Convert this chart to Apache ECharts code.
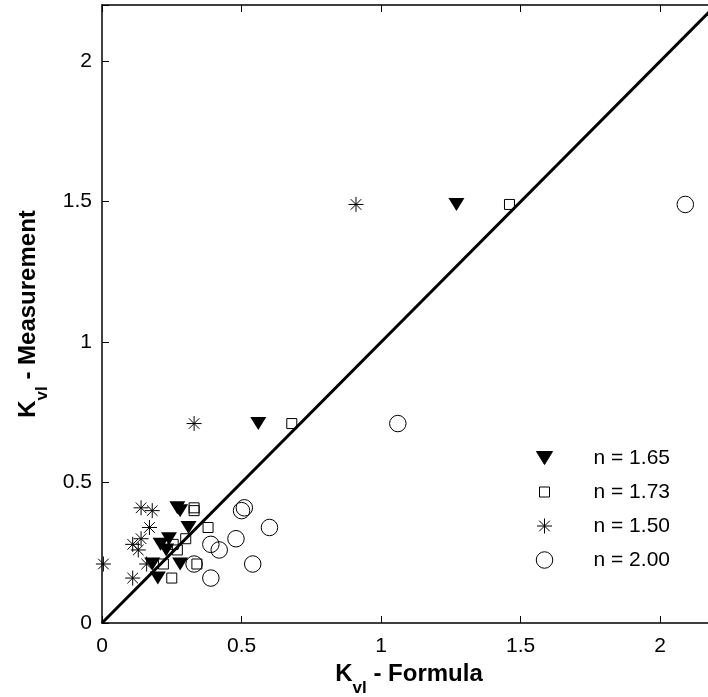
<!DOCTYPE html>
<html>
<head>
<meta charset="utf-8">
<script src="https://cdn.jsdelivr.net/npm/echarts@6/dist/echarts.min.js"></script>
<style>
  html, body { margin: 0; padding: 0; background: #fff; }
  #chart { width: 708px; height: 697px; }
</style>
</head>
<body>
<div id="chart"></div>
<script>
// measured K_vl, same for every exponent n
const measured = [1.49, 0.71, 0.41, 0.40, 0.34, 0.30, 0.28, 0.26, 0.21, 0.21, 0.16];
// K_vl from the formula for each n (same order as measured)
const formula165 = [1.27, 0.56, 0.27, 0.28, 0.31, 0.24, 0.21, 0.23, 0.18, 0.28, 0.20];
const formula173 = [1.46, 0.68, 0.33, 0.33, 0.38, 0.30, 0.255, 0.27, 0.22, 0.34, 0.25];
const formula150 = [0.91, 0.33, 0.14, 0.18, 0.17, 0.14, 0.11, 0.13, 0.005, 0.16, 0.11];
const formula200 = [2.09, 1.06, 0.51, 0.50, 0.60, 0.48, 0.39, 0.42, 0.33, 0.54, 0.39];
const seriesNames = ['n = 1.65', 'n = 1.73', 'n = 1.50', 'n = 2.00'];
// y = x reference line
const diagonal = [[0, 0], [2.2, 2.2]];
const tickValues = [0, 0.5, 1, 1.5, 2];

const font = 'Liberation Sans, Arial, sans-serif';

// marker shapes, all in an 18x18 box so legend and plot share size
const triDown = 'path://M0,0M18,18M1,2.5L17,2.5L9,15.5Z';
const square = 'path://M0,0M18,18M4,4L14,4L14,14L4,14Z';
const star = 'path://M0,0M18,18M9,1.5L9,16.5M1.5,9L16.5,9M3.7,3.7L14.3,14.3M3.7,14.3L14.3,3.7';
const ring = 'path://M0,0M18,18M17.25,9A8.25,8.25,0,1,1,0.75,9A8.25,8.25,0,1,1,17.25,9Z';

function pairs(xs) {
  return xs.map((x, i) => [x, measured[i]]);
}

const hollow = { color: 'rgba(0,0,0,0)', borderColor: '#000', borderWidth: 1, opacity: 1 };

const nameRich = {
  k: { fontFamily: font, fontSize: 24, fontWeight: 'bold', color: '#000', verticalAlign: 'top', lineHeight: 26 },
  s: { fontFamily: font, fontSize: 17, fontWeight: 'bold', color: '#000', verticalAlign: 'top', lineHeight: 18, padding: [18, 0, 0, 0] }
};

function tickFmt(v) {
  return tickValues.some(t => Math.abs(t - v) < 1e-6) ? String(v) : '';
}

const chart = echarts.init(document.getElementById('chart'), null, { renderer: 'canvas' });

let option = {
  animation: false,
  backgroundColor: '#fff',
  grid: { left: 102, right: -8, top: 5, bottom: 74, outerBoundsMode: 'none' },
  legend: {
    orient: 'vertical',
    left: 530,
    top: 441,
    itemWidth: 18,
    itemHeight: 18,
    itemGap: 10,
    selectedMode: false,
    data: seriesNames,
    itemStyle: { borderWidth: 1 },
    textStyle: { fontFamily: font, fontSize: 21, color: '#000', lineHeight: 24, padding: [0, 0, 0, 35] }
  },
  xAxis: [
    {
      type: 'value', min: 0, max: 2.2, interval: 0.5,
      name: '{k|K}{s|vl}{k| - Formula}',
      nameLocation: 'middle', nameGap: 39, nameMoveOverlap: false,
      nameTextStyle: { rich: nameRich },
      axisLine: { lineStyle: { color: '#000', width: 1.5 } },
      axisTick: { inside: true, length: 7, lineStyle: { color: '#000', width: 1 } },
      axisLabel: { margin: 13, fontFamily: font, fontSize: 21, color: '#000', formatter: tickFmt },
      splitLine: { show: false }
    },
    {
      type: 'value', position: 'top', min: 0, max: 2.2, interval: 0.5,
      axisLine: { lineStyle: { color: '#000', width: 1.5 } },
      axisTick: { inside: true, length: 7, lineStyle: { color: '#000', width: 1 } },
      axisLabel: { show: false },
      splitLine: { show: false }
    }
  ],
  yAxis: {
    type: 'value', min: 0, max: 2.2, interval: 0.5,
    name: '{k|K}{s|vl}{k| - Measurement}',
    nameLocation: 'middle', nameRotate: 90, nameGap: 60, nameMoveOverlap: false,
    nameTextStyle: { rich: nameRich },
    axisLine: { show: true, lineStyle: { color: '#000', width: 1.5 } },
    axisTick: { show: true, inside: true, length: 7, lineStyle: { color: '#000', width: 1 } },
    axisLabel: { margin: 10, fontFamily: font, fontSize: 21, color: '#000', formatter: tickFmt },
    splitLine: { show: false }
  },
  series: [
    {
      type: 'line', data: diagonal, symbol: 'none', silent: true,
      lineStyle: { color: '#000', width: 3 }
    },
    {
      name: seriesNames[0], type: 'scatter', data: pairs(formula165),
      symbol: triDown, symbolSize: 18,
      itemStyle: { color: '#000', borderColor: '#000', borderWidth: 0, opacity: 1 }
    },
    {
      name: seriesNames[1], type: 'scatter', data: pairs(formula173),
      symbol: square, symbolSize: 18, itemStyle: hollow
    },
    {
      name: seriesNames[2], type: 'scatter', data: pairs(formula150),
      symbol: star, symbolSize: 18, itemStyle: hollow
    },
    {
      name: seriesNames[3], type: 'scatter', data: pairs(formula200),
      symbol: ring, symbolSize: 18, itemStyle: hollow
    }
  ]
};

chart.setOption(option);
</script>
</body>
</html>
